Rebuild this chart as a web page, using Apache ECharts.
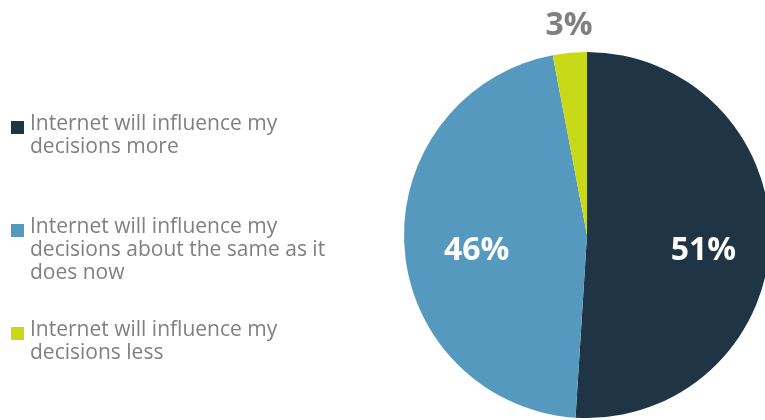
<!DOCTYPE html>
<html>
<head>
<meta charset="utf-8">
<script src="https://cdn.jsdelivr.net/npm/echarts@6/dist/echarts.min.js"></script>
<style>html,body{margin:0;padding:0;background:#fff}#c{width:765px;height:420px}</style>
</head>
<body>
<div id="c"></div>
<script>
// Data
var categories = [
  'Internet will influence my\ndecisions more',
  'Internet will influence my\ndecisions about the same as it\ndoes now',
  'Internet will influence my\ndecisions less'
];
var values = [51, 46, 3];

// Styles
var colors = ['#1F3546', '#5699BF', '#C8D918'];
var labelColors = ['#ffffff', '#ffffff', '#808080'];
var labelOffsets = [[22, 13], [-16, 10], [-9, -115]];
var legendTops = [112.5, 215.5, 318.5];
var squareTops = [121, 224, 327];

var chart = echarts.init(document.getElementById('c'), null, {renderer: 'canvas'});

var pieData = categories.map(function (name, i) {
  return {
    name: name,
    value: values[i],
    itemStyle: {color: colors[i]},
    label: {color: labelColors[i], offset: labelOffsets[i]}
  };
});

var graphics = [];
categories.forEach(function (name, i) {
  graphics.push({
    type: 'rect',
    left: 11,
    top: squareTops[i],
    shape: {width: 13, height: 13},
    style: {fill: colors[i]},
    silent: true
  });
  graphics.push({
    type: 'text',
    left: 30,
    top: legendTops[i],
    style: {
      text: name,
      fill: '#808080',
      font: '21px "Open Sans", sans-serif',
      lineHeight: 23
    },
    silent: true
  });
});

chart.setOption({
  animation: false,
  backgroundColor: '#ffffff',
  graphic: graphics,
  series: [{
    type: 'pie',
    center: [587, 235],
    radius: [0, 183],
    startAngle: 90,
    clockwise: true,
    data: pieData,
    label: {
      show: true,
      position: 'inside',
      formatter: '{c}%',
      fontFamily: '"Open Sans", sans-serif',
      fontWeight: 'bold',
      fontSize: 32
    },
    labelLine: {show: false},
    emphasis: {disabled: true}
  }]
});
</script>
</body>
</html>
